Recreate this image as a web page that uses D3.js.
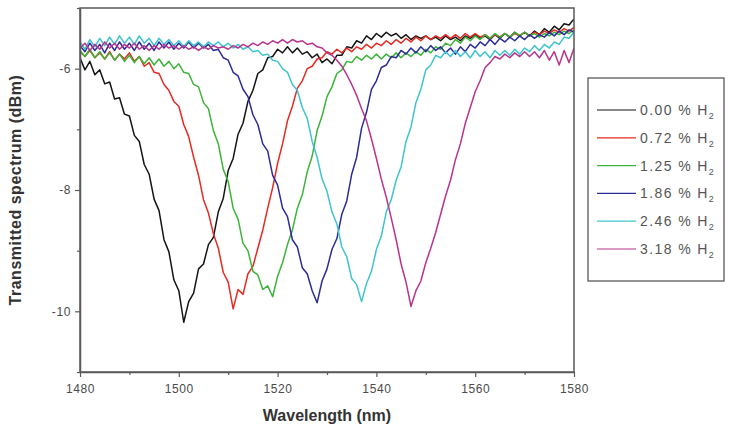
<!DOCTYPE html>
<html>
<head>
<meta charset="utf-8">
<script src="https://cdn.jsdelivr.net/npm/d3@7"></script>
<style>
  html, body { margin: 0; padding: 0; background: #fff; }
  svg { display: block; font-family: "Liberation Sans", Arial, sans-serif; }
</style>
</head>
<body>
<svg id="chart" width="731" height="430"></svg>
<script>
// Wavelength grid of the optical spectrum analyser trace (nm, 1 nm step)
const wavelengths = d3.range(1480, 1581);

// Transmitted power (dBm) for each hydrogen concentration
const h2_000 = [
  -5.82,-6.02,-5.88,-6.10,-6.02,-6.25,-6.22,-6.50,-6.48,-6.75,
  -6.78,-7.10,-7.20,-7.58,-7.74,-8.15,-8.34,-8.82,-9.02,-9.48,
  -9.66,-10.18,-9.84,-9.70,-9.30,-9.22,-8.90,-8.78,-8.36,-8.14,
  -7.68,-7.48,-7.08,-6.90,-6.54,-6.36,-6.08,-6.02,-5.82,-5.80,
  -5.68,-5.74,-5.64,-5.74,-5.66,-5.76,-5.72,-5.82,-5.76,-5.90,
  -5.84,-5.92,-5.78,-5.78,-5.64,-5.66,-5.54,-5.58,-5.46,-5.52,
  -5.42,-5.48,-5.40,-5.46,-5.42,-5.50,-5.44,-5.52,-5.46,-5.50,
  -5.46,-5.52,-5.48,-5.54,-5.46,-5.52,-5.48,-5.54,-5.46,-5.50,
  -5.44,-5.50,-5.46,-5.52,-5.44,-5.50,-5.42,-5.48,-5.40,-5.46,
  -5.40,-5.46,-5.38,-5.44,-5.34,-5.40,-5.30,-5.36,-5.26,-5.28,
  -5.18
];
const h2_072 = [
  -5.72,-5.80,-5.70,-5.82,-5.74,-5.84,-5.72,-5.86,-5.76,-5.84,
  -5.74,-5.88,-5.80,-5.96,-5.90,-6.06,-6.08,-6.26,-6.36,-6.54,
  -6.62,-6.92,-7.12,-7.46,-7.76,-8.16,-8.38,-8.72,-8.96,-9.36,
  -9.52,-9.96,-9.64,-9.72,-9.38,-9.26,-8.96,-8.66,-8.30,-7.96,
  -7.56,-7.24,-6.86,-6.62,-6.32,-6.20,-6.00,-5.96,-5.84,-5.82,
  -5.72,-5.76,-5.68,-5.74,-5.66,-5.72,-5.64,-5.68,-5.60,-5.66,
  -5.58,-5.62,-5.54,-5.60,-5.52,-5.58,-5.50,-5.56,-5.48,-5.54,
  -5.46,-5.52,-5.46,-5.50,-5.44,-5.50,-5.44,-5.50,-5.42,-5.48,
  -5.42,-5.48,-5.44,-5.50,-5.44,-5.48,-5.42,-5.48,-5.42,-5.46,
  -5.40,-5.46,-5.40,-5.44,-5.38,-5.42,-5.36,-5.40,-5.34,-5.38,
  -5.32
];
const h2_125 = [
  -5.70,-5.80,-5.68,-5.82,-5.72,-5.84,-5.74,-5.86,-5.76,-5.88,
  -5.78,-5.90,-5.80,-5.92,-5.82,-5.94,-5.84,-5.96,-5.88,-6.00,
  -5.92,-6.06,-6.08,-6.26,-6.30,-6.56,-6.66,-7.02,-7.24,-7.66,
  -7.86,-8.30,-8.48,-8.88,-9.00,-9.34,-9.40,-9.64,-9.58,-9.76,
  -9.42,-9.20,-8.90,-8.66,-8.30,-8.08,-7.70,-7.44,-7.02,-6.78,
  -6.46,-6.30,-6.08,-6.02,-5.88,-5.90,-5.80,-5.86,-5.78,-5.84,
  -5.76,-5.84,-5.76,-5.82,-5.74,-5.82,-5.74,-5.80,-5.72,-5.78,
  -5.68,-5.74,-5.64,-5.68,-5.58,-5.62,-5.52,-5.58,-5.48,-5.54,
  -5.46,-5.52,-5.44,-5.50,-5.42,-5.48,-5.42,-5.48,-5.40,-5.46,
  -5.40,-5.46,-5.42,-5.48,-5.42,-5.46,-5.40,-5.44,-5.38,-5.42,
  -5.36
];
const h2_186 = [
  -5.62,-5.72,-5.58,-5.70,-5.60,-5.74,-5.58,-5.70,-5.56,-5.68,
  -5.58,-5.70,-5.56,-5.68,-5.58,-5.70,-5.56,-5.66,-5.56,-5.68,
  -5.58,-5.66,-5.56,-5.66,-5.58,-5.66,-5.60,-5.70,-5.68,-5.82,
  -5.86,-6.06,-6.12,-6.34,-6.46,-6.76,-6.92,-7.24,-7.36,-7.76,
  -7.92,-8.30,-8.44,-8.82,-8.94,-9.28,-9.38,-9.66,-9.86,-9.50,
  -9.30,-8.98,-8.80,-8.40,-8.18,-7.74,-7.46,-6.98,-6.72,-6.34,
  -6.20,-5.98,-5.94,-5.80,-5.82,-5.70,-5.76,-5.66,-5.74,-5.64,
  -5.72,-5.62,-5.70,-5.64,-5.74,-5.66,-5.76,-5.64,-5.72,-5.60,
  -5.66,-5.56,-5.62,-5.52,-5.60,-5.50,-5.56,-5.48,-5.54,-5.46,
  -5.52,-5.44,-5.50,-5.44,-5.48,-5.40,-5.46,-5.38,-5.44,-5.36,
  -5.40
];
const h2_246 = [
  -5.56,-5.68,-5.52,-5.64,-5.50,-5.62,-5.48,-5.60,-5.46,-5.58,
  -5.48,-5.60,-5.46,-5.58,-5.50,-5.62,-5.50,-5.60,-5.52,-5.62,
  -5.54,-5.64,-5.54,-5.62,-5.56,-5.64,-5.56,-5.62,-5.56,-5.64,
  -5.58,-5.66,-5.60,-5.68,-5.64,-5.72,-5.70,-5.78,-5.76,-5.86,
  -5.88,-6.00,-6.06,-6.26,-6.36,-6.64,-6.82,-7.20,-7.46,-7.82,
  -8.02,-8.36,-8.56,-8.94,-9.10,-9.46,-9.56,-9.84,-9.54,-9.34,
  -8.98,-8.76,-8.36,-8.16,-7.84,-7.62,-7.20,-6.96,-6.56,-6.34,
  -6.02,-5.94,-5.78,-5.82,-5.72,-5.80,-5.70,-5.80,-5.72,-5.82,
  -5.70,-5.80,-5.72,-5.82,-5.70,-5.78,-5.70,-5.78,-5.68,-5.76,
  -5.66,-5.72,-5.62,-5.70,-5.60,-5.66,-5.56,-5.60,-5.48,-5.50,
  -5.40
];
const h2_318 = [
  -5.66,-5.58,-5.70,-5.60,-5.68,-5.56,-5.66,-5.58,-5.68,-5.60,
  -5.66,-5.58,-5.68,-5.62,-5.70,-5.62,-5.68,-5.60,-5.66,-5.62,
  -5.68,-5.62,-5.68,-5.64,-5.70,-5.64,-5.68,-5.62,-5.66,-5.64,
  -5.68,-5.62,-5.66,-5.60,-5.64,-5.58,-5.62,-5.56,-5.60,-5.54,
  -5.58,-5.52,-5.58,-5.52,-5.56,-5.54,-5.60,-5.58,-5.64,-5.66,
  -5.74,-5.78,-5.86,-5.96,-6.10,-6.26,-6.44,-6.66,-6.86,-7.16,
  -7.48,-7.82,-8.12,-8.46,-8.82,-9.22,-9.52,-9.92,-9.66,-9.50,
  -9.20,-8.96,-8.70,-8.40,-8.10,-7.84,-7.50,-7.24,-6.90,-6.64,
  -6.38,-6.20,-5.98,-5.90,-5.80,-5.84,-5.76,-5.82,-5.74,-5.80,
  -5.72,-5.80,-5.72,-5.82,-5.70,-5.86,-5.72,-5.94,-5.70,-5.90,
  -5.66
];

const concentrations = ["0.00", "0.72", "1.25", "1.86", "2.46", "3.18"];
const spectra = [h2_000, h2_072, h2_125, h2_186, h2_246, h2_318];
const colors = ["#141414", "#e42a22", "#3cb43a", "#2c2c96", "#3ec4d0", "#b8348e"];

const xMajorTicks = [1480, 1500, 1520, 1540, 1560, 1580];
const xMinorTicks = [1490, 1510, 1530, 1550, 1570];
const yMajorTicks = [-10, -8, -6];
const yMinorTicks = [-11, -9, -7, -5];

const svg = d3.select("#chart");
const axisColor = "#5a5a5a";
const labelColor = "#4a4a4a";

const x = d3.scaleLinear().domain([1480, 1580]).range([80, 574]);
const y = d3.scaleLinear().domain([-11, -5]).range([372, 8]);

// Clip region for the spectra
svg.append("defs").append("clipPath").attr("id", "plot-clip")
  .append("rect")
  .attr("x", x(1480)).attr("y", y(-5))
  .attr("width", x(1580) - x(1480)).attr("height", y(-11) - y(-5));

// Spectra
const line = d3.line()
  .x((d, i) => x(wavelengths[i]))
  .y(d => y(d));

const traces = svg.append("g").attr("clip-path", "url(#plot-clip)");
spectra.forEach((values, k) => {
  traces.append("path")
    .datum(values)
    .attr("d", line)
    .attr("fill", "none")
    .attr("stroke", colors[k])
    .attr("stroke-width", 1.5)
    .attr("stroke-linejoin", "round");
});

// Axes
const fmt = d => String(d).replace("\u2212", "-");

const xAxis = svg.append("g")
  .attr("transform", `translate(0,${y(-11)})`)
  .call(d3.axisBottom(x).tickValues(xMajorTicks).tickFormat(fmt)
    .tickSize(5).tickSizeOuter(0).tickPadding(7));
svg.append("g")
  .attr("transform", `translate(0,${y(-11)})`)
  .call(d3.axisBottom(x).tickValues(xMinorTicks).tickFormat("")
    .tickSize(3).tickSizeOuter(0))
  .call(g => g.select(".domain").remove());

const yAxis = svg.append("g")
  .attr("transform", `translate(${x(1480)},0)`)
  .call(d3.axisLeft(y).tickValues(yMajorTicks).tickFormat(fmt)
    .tickSize(5).tickSizeOuter(0).tickPadding(4));
svg.append("g")
  .attr("transform", `translate(${x(1480)},0)`)
  .call(d3.axisLeft(y).tickValues(yMinorTicks).tickFormat("")
    .tickSize(3).tickSizeOuter(0))
  .call(g => g.select(".domain").remove());

svg.selectAll(".tick line").attr("stroke", axisColor).attr("stroke-width", 1.2);
svg.selectAll(".domain").attr("stroke", axisColor).attr("stroke-width", 1.5);
svg.selectAll(".tick text")
  .attr("fill", labelColor)
  .style("font-size", "12px")
  .style("letter-spacing", "0.6px")
  .style("font-family", "'Liberation Sans', Arial, sans-serif");

// Plot frame
svg.append("rect")
  .attr("x", x(1480)).attr("y", y(-5))
  .attr("width", x(1580) - x(1480)).attr("height", y(-11) - y(-5))
  .attr("fill", "none")
  .attr("stroke", axisColor)
  .attr("stroke-width", 1.5);

// Axis titles
svg.append("text")
  .attr("x", (x(1480) + x(1580)) / 2)
  .attr("y", 421)
  .attr("text-anchor", "middle")
  .attr("fill", "#333")
  .style("font-size", "16px")
  .style("font-weight", "bold")
  .text("Wavelength (nm)");

svg.append("text")
  .attr("transform", `translate(21,${(y(-5) + y(-11)) / 2}) rotate(-90)`)
  .attr("text-anchor", "middle")
  .attr("fill", "#333")
  .style("font-size", "16px")
  .style("font-weight", "bold")
  .style("letter-spacing", "0.5px")
  .text("Transmitted spectrum (dBm)");

// Legend
const legend = svg.append("g");
legend.append("rect")
  .attr("x", 588).attr("y", 78)
  .attr("width", 136).attr("height", 203)
  .attr("fill", "#fff")
  .attr("stroke", axisColor)
  .attr("stroke-width", 1.3);

concentrations.forEach((c, k) => {
  const ly = 110 + k * 27.8;
  legend.append("line")
    .attr("x1", 597).attr("x2", 636)
    .attr("y1", ly).attr("y2", ly)
    .attr("stroke", colors[k])
    .attr("stroke-width", 1.2);
  const t = legend.append("text")
    .attr("x", 640).attr("y", ly + 5)
    .attr("fill", "#555")
    .style("font-size", "14px")
    .style("letter-spacing", "1.4px");
  t.append("tspan").text(`${c} % H`);
  t.append("tspan").attr("dy", 4).style("font-size", "9px").text("2");
});
</script>
</body>
</html>
